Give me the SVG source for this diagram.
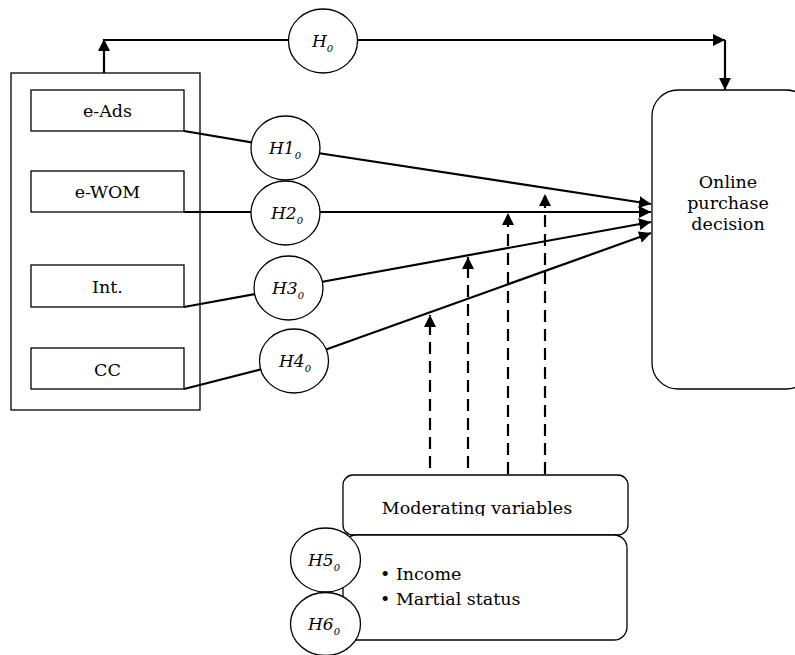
<svg xmlns="http://www.w3.org/2000/svg" width="795" height="655" viewBox="0 0 795 655">
<style>
.box{fill:#fff;stroke:#000;stroke-width:1.3}
.ell{fill:#fff;stroke:#000;stroke-width:1.3}
.ln{fill:none;stroke:#000;stroke-width:2.2}
.dash{fill:none;stroke:#000;stroke-width:2.2;stroke-dasharray:12,7}
.t{font-family:"DejaVu Serif","Liberation Serif",serif;font-size:17.5px;fill:#000}
.h{font-family:"DejaVu Serif","Liberation Serif",serif;font-size:17px;font-style:italic;fill:#000}
.s{font-size:10px}
</style>
<defs>
<marker id="ah" viewBox="0 0 10 10" refX="10" refY="5" markerWidth="12" markerHeight="12" markerUnits="userSpaceOnUse" orient="auto">
<path d="M0,0 L10,5 L0,10 z" fill="#000"/>
</marker>
<clipPath id="modclip"><rect x="343" y="475" width="286" height="41"/></clipPath>
</defs>
<g id="independent">
<rect class="box" x="11" y="73" width="189" height="337"/>
</g>
<g id="eads"><rect class="box" x="31" y="90" width="153" height="41"/><text class="t" x="107.5" y="117" text-anchor="middle">e-Ads</text></g>
<g id="ewom"><rect class="box" x="31" y="171" width="153" height="41"/><text class="t" x="107.5" y="198" text-anchor="middle">e-WOM</text></g>
<g id="int"><rect class="box" x="31" y="265" width="153" height="42"/><text class="t" x="107.5" y="293" text-anchor="middle">Int.</text></g>
<g id="cc"><rect class="box" x="31" y="348" width="153" height="41"/><text class="t" x="107.5" y="376" text-anchor="middle">CC</text></g>
<g id="decision"><rect class="box" x="652" y="90" width="160" height="299" rx="26" ry="26"/>
<text class="t" text-anchor="middle" x="728"><tspan x="728" y="188">Online</tspan><tspan x="728" y="209">purchase</tspan><tspan x="728" y="230">decision</tspan></text></g>
<g id="connectors">
<polyline class="ln" points="104,40 725,40" marker-end="url(#ah)"/>
<line class="ln" x1="104" y1="73" x2="104" y2="39" marker-end="url(#ah)"/>
<line class="ln" x1="725" y1="40" x2="725" y2="90" marker-end="url(#ah)"/>
<polyline class="ln" points="184,131 285,148 651,204" marker-end="url(#ah)"/>
<polyline class="ln" points="184,212 651,212" marker-end="url(#ah)"/>
<polyline class="ln" points="184,307 288,288 651,222" marker-end="url(#ah)"/>
<polyline class="ln" points="184,389 294,361 651,233" marker-end="url(#ah)"/>
<line class="dash" x1="430" y1="468" x2="430" y2="315" marker-end="url(#ah)"/>
<line class="dash" x1="468" y1="468" x2="468" y2="257" marker-end="url(#ah)"/>
<line class="dash" x1="508" y1="474" x2="508" y2="213" marker-end="url(#ah)"/>
<line class="dash" x1="545" y1="474" x2="545" y2="194" marker-end="url(#ah)"/>
</g>
<g id="h0"><ellipse class="ell" cx="323" cy="41" rx="34.5" ry="32"/><text class="h" x="312" y="47">H<tspan class="s" dy="5">0</tspan></text></g>
<g id="h1"><ellipse class="ell" cx="285.5" cy="148" rx="34.5" ry="32"/><text class="h" x="269" y="154">H1<tspan class="s" dy="5">0</tspan></text></g>
<g id="h2"><ellipse class="ell" cx="285.5" cy="213" rx="34.5" ry="32"/><text class="h" x="271" y="219">H2<tspan class="s" dy="5">0</tspan></text></g>
<g id="h3"><ellipse class="ell" cx="288.5" cy="288" rx="34.5" ry="32"/><text class="h" x="272" y="294">H3<tspan class="s" dy="5">0</tspan></text></g>
<g id="h4"><ellipse class="ell" cx="294" cy="361" rx="34.5" ry="32"/><text class="h" x="279" y="367">H4<tspan class="s" dy="5">0</tspan></text></g>
<g id="moderating"><rect class="box" x="343" y="475" width="285" height="60" rx="10" ry="10"/>
<text class="t" x="477" y="514" text-anchor="middle" clip-path="url(#modclip)">Moderating variables</text></g>
<g id="modlist"><rect class="box" x="343" y="535" width="284" height="105" rx="13" ry="13"/>
<text class="t" x="380" y="580">• Income</text><text class="t" x="380" y="605">• Martial status</text></g>
<g id="h5"><ellipse class="ell" cx="325.5" cy="560" rx="35" ry="32"/><text class="h" x="308" y="566">H5<tspan class="s" dy="5">0</tspan></text></g>
<g id="h6"><ellipse class="ell" cx="325.5" cy="624" rx="35" ry="31.5"/><text class="h" x="308" y="630">H6<tspan class="s" dy="5">0</tspan></text></g>
</svg>
